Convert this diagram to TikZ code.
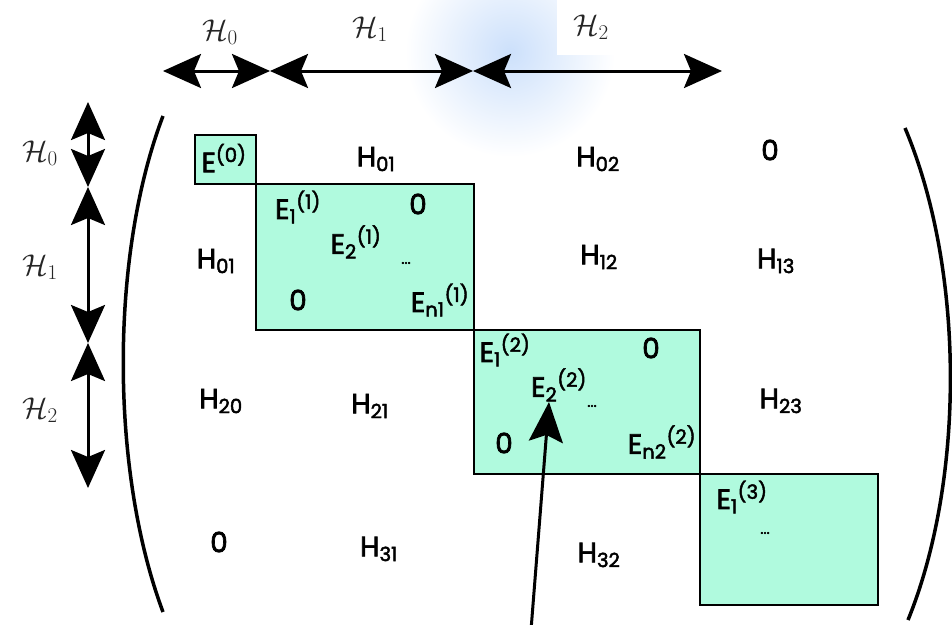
\RequirePackage{fix-cm}
\documentclass[tikz,border=0pt]{standalone}
\usepackage{fontspec}
\setmainfont{Poppins}[FakeBold=2.4]
\usepackage{amsmath}
\usetikzlibrary{arrows.meta}
\newcommand\Sb[1]{\textsubscript{#1}}
\newcommand\Sp[1]{\textsuperscript{#1}}
\definecolor{mint}{RGB}{176,250,222}
\definecolor{haze}{RGB}{204,224,251}
\begin{document}
\begin{tikzpicture}[x=1pt,y=-1pt,
  lbl/.style={font=\fontsize{28}{32}\selectfont, inner sep=0pt},
  dots/.style={font=\fontsize{15}{15}\selectfont, inner sep=0pt},
  cal/.style={font=\fontsize{30}{34}\selectfont, text=black!85, inner sep=1pt},
  blk/.style={draw=black, line width=2.2pt, fill=mint},
  dbl/.style={line width=3pt, {Stealth[length=38pt,width=34pt,inset=7pt]}-{Stealth[length=38pt,width=34pt,inset=7pt]}},
  paren/.style={line width=3.5pt},
  pointer/.style={line width=3pt, -{Stealth[length=40pt,width=34pt,inset=7pt]}}]
\useasboundingbox (0,0) rectangle (952,624);
\fill[white] (0,0) rectangle (952,624);
\shade[inner color=haze, outer color=white] (510,52) circle (105);
% header arrows
\coordinate (t0) at (163,71);
\coordinate (t1) at (270,71);
\coordinate (t2) at (473,71);
\coordinate (t3) at (722,71);
\node[cal] (h0) at (220,32) {$\mathcal{H}_0$};
\node[cal] (h1) at (370,29) {$\mathcal{H}_1$};
\node[cal, fill=white, minimum width=68pt, minimum height=55pt] (h2) at (591,27) {$\mathcal{H}_2$};
\draw[dbl] (t0) -- (t1);
\draw[dbl] (t1) -- (t2);
\draw[dbl] (t2) -- (t3);
% side arrows
\coordinate (v0) at (88,102);
\coordinate (v1) at (88,187);
\coordinate (v2) at (88,343);
\coordinate (v3) at (88,488);
\node[cal] (s0) at (40,153) {$\mathcal{H}_0$};
\node[cal] (s1) at (40,267) {$\mathcal{H}_1$};
\node[cal] (s2) at (40,410) {$\mathcal{H}_2$};
\draw[dbl] (v0) -- (v1);
\draw[dbl] (v1) -- (v2);
\draw[dbl] (v2) -- (v3);
% parentheses
\draw[paren] (163,116) .. controls (110,255) and (110,470) .. (163,612);
\draw[paren] (905,128) .. controls (965,270) and (965,480) .. (908,620);
% blocks
\node[blk, minimum width=61pt, minimum height=49pt] (b0) at (225.5,159.5) {};
\node[blk, minimum width=218pt, minimum height=146pt] (b1) at (365,257) {};
\node[blk, minimum width=226pt, minimum height=144pt] (b2) at (587,402) {};
\node[blk, minimum width=178pt, minimum height=131pt] (b3) at (789,539.5) {};
% row 1
\node[lbl] (e0) at (224,158) {E\Sp{(0)}};
\node[lbl] (h01a) at (376,159) {H\Sb{01}};
\node[lbl] (h02) at (598,159) {H\Sb{02}};
\node[lbl] (z03) at (770,150) {0};
% block 1
\node[lbl] (e11) at (298,207) {E\Sb{1}\Sp{(1)}};
\node[lbl] (z1a) at (418,204) {0};
\node[lbl] (e21) at (356,242) {E\Sb{2}\Sp{(1)}};
\node[dots] (d1) at (406,263) {...};
\node[lbl] (z1b) at (298,300) {0};
\node[lbl] (en1) at (440,300) {E\Sb{n1}\Sp{(1)}};
% row 2
\node[lbl] (h01b) at (216,261) {H\Sb{01}};
\node[lbl] (h12) at (599,257) {H\Sb{12}};
\node[lbl] (h13) at (776,261) {H\Sb{13}};
% block 2
\node[lbl] (e12) at (505,350) {E\Sb{1}\Sp{(2)}};
\node[lbl] (z2a) at (651,348) {0};
\node[lbl] (e22) at (559,385) {E\Sb{2}\Sp{(2)}};
\node[dots] (d2) at (592,406) {...};
\node[lbl] (z2b) at (504,443) {0};
\node[lbl] (en2) at (662,442) {E\Sb{n2}\Sp{(2)}};
% row 3
\node[lbl] (h20) at (221,401) {H\Sb{20}};
\node[lbl] (h21) at (370,406) {H\Sb{21}};
\node[lbl] (h23) at (781,401) {H\Sb{23}};
% block 3
\node[lbl] (e13) at (742,497) {E\Sb{1}\Sp{(3)}};
\node[dots] (d3) at (765,533) {...};
% row 4
\node[lbl] (z40) at (219,542) {0};
\node[lbl] (h31) at (379,549) {H\Sb{31}};
\node[lbl] (h32) at (599,555) {H\Sb{32}};
% pointer
\coordinate (pt) at (531,630);
\coordinate (ptip) at (549,402);
\draw[pointer] (pt) -- (ptip);
\end{tikzpicture}
\end{document}
